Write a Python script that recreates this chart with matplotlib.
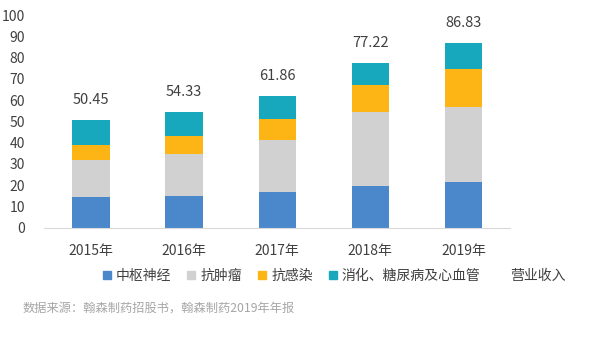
import matplotlib.pyplot as plt
from matplotlib.lines import Line2D
import numpy as np

plt.rcParams['font.family'] = ['Noto Sans CJK SC', 'DejaVu Sans']

years = ["2015年", "2016年", "2017年", "2018年", "2019年"]
cns = [14.4, 14.7, 16.9, 19.4, 21.6]          # 中枢神经
oncology = [17.6, 20.1, 24.2, 34.8, 35.0]     # 抗肿瘤
infection = [6.9, 8.5, 9.8, 12.9, 18.2]       # 抗感染
digestive = [11.55, 11.03, 10.96, 10.12, 12.03]  # 消化、糖尿病及心血管
revenue = [50.45, 54.33, 61.86, 77.22, 86.83]  # 营业收入

series = [
    ("中枢神经", cns, "#4a87cb"),
    ("抗肿瘤", oncology, "#d0d1d0"),
    ("抗感染", infection, "#fdb515"),
    ("消化、糖尿病及心血管", digestive, "#18a8bd"),
]

TXT = "#404040"

fig = plt.figure(figsize=(6, 3.53), dpi=100)
ax = fig.add_axes([0.074, 0.355, 0.776, 0.6025])

x = np.arange(len(years))
bottom = np.zeros(len(years))
handles = []
for name, vals, col in series:
    ax.bar(x, vals, 0.4, bottom=bottom, color=col, zorder=2)
    bottom += np.array(vals)
    handles.append(Line2D([], [], marker="s", color=col, linestyle="none",
                          markersize=5.5, label=name))
handles.append(Line2D([], [], color="none", label="营业收入"))

for xi, v in zip(x, revenue):
    ax.annotate(f"{v:.2f}", (xi, v), xytext=(0, 14.5), textcoords="offset points",
                ha="center", va="center", fontsize=10.5, color=TXT)

ax.set_xlim(-0.5, 4.5)
ax.set_ylim(0, 100)
ax.set_yticks(range(0, 101, 10))
ax.set_xticks(x)
ax.set_xticklabels(years)
ax.tick_params(axis="both", length=0, labelsize=10, colors=TXT)
ax.tick_params(axis="y", pad=14)
ax.tick_params(axis="x", pad=12)
for s in ["top", "right", "left"]:
    ax.spines[s].set_visible(False)
ax.spines["bottom"].set_color("#d9d9d9")

fig.legend(handles=handles, loc="center", bbox_to_anchor=(0.556, 0.218),
           ncol=5, frameon=False, fontsize=10, handlelength=0.7,
           handletextpad=0.3, columnspacing=1.1, labelcolor=TXT)

fig.text(0.037, 0.128, "数据来源：翰森制药招股书，翰森制药2019年年报",
         fontsize=8.8, color="#a6a6a6", va="center")

fig.savefig("out.png", dpi=100)
